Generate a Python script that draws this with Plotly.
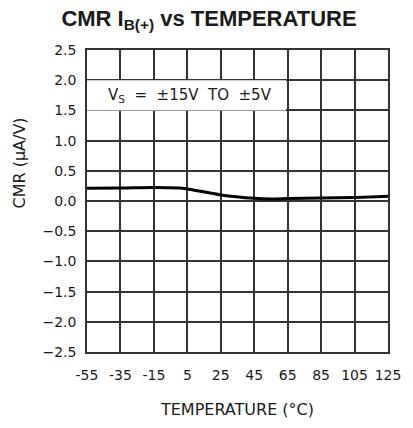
import plotly.graph_objects as go

# Common-mode rejection of the positive input bias current across temperature
temperature_c = [-55, -35, -15, 0, 5, 25, 45, 55, 65, 85, 105, 125]
cmr_ua_per_v = [0.21, 0.215, 0.225, 0.215, 0.20, 0.10, 0.045, 0.035, 0.04, 0.05, 0.06, 0.08]

x_ticks = [-55, -35, -15, 5, 25, 45, 65, 85, 105, 125]
y_ticks = [-2.5, -2.0, -1.5, -1.0, -0.5, 0.0, 0.5, 1.0, 1.5, 2.0, 2.5]

tick_font = dict(family="DejaVu Sans", size=14, color="#1a1a1a")
note_font = dict(family="DejaVu Sans", size=15, color="#1a1a1a")
title_font = dict(family="DejaVu Sans", size=16, color="#1a1a1a")
grid_color = "#333333"

fig = go.Figure()
fig.add_trace(go.Scatter(
    x=temperature_c,
    y=cmr_ua_per_v,
    mode="lines",
    line=dict(color="#000000", width=3, shape="spline", smoothing=0.8),
    showlegend=False,
    hoverinfo="skip",
))

# white panel behind the supply-voltage note, covering the grid
fig.add_shape(
    type="rect", xref="x", yref="y",
    x0=-55, x1=64, y0=1.5, y1=2.0,
    fillcolor="white", line=dict(width=0), layer="between",
)
fig.add_annotation(
    xref="paper", yref="y", x=0.062, y=1.75,
    xanchor="left", yanchor="middle",
    text="V<sub>S</sub>  =  ±15V  TO  ±5V",
    showarrow=False, font=note_font,
)

fig.add_annotation(
    xref="paper", yref="paper", x=-0.225, y=0.625,
    xanchor="center", yanchor="middle", textangle=-90,
    text="CMR (μA/V)", showarrow=False, font=title_font,
)

fig.update_layout(
    width=413, height=428,
    margin=dict(l=87, r=16, t=50, b=71),
    paper_bgcolor="white", plot_bgcolor="white",
    title=dict(
        text="CMR I<sub>B(+)</sub> vs TEMPERATURE",
        x=209 / 413, xref="container", xanchor="center",
        y=1 - 18 / 428, yref="container", yanchor="middle",
        font=dict(family="Liberation Sans", size=22, color="#1a1a1a", weight="bold"),
    ),
    xaxis=dict(
        range=[-55, 125], tickvals=x_ticks, ticktext=[str(v) for v in x_ticks],
        showgrid=True, gridcolor=grid_color, gridwidth=1.5,
        showline=True, linecolor=grid_color, linewidth=1.5, mirror=True,
        zeroline=False, ticks="", ticklen=0, ticklabelstandoff=9,
        tickfont=tick_font,
        title=dict(text="TEMPERATURE (°C)", font=title_font, standoff=22),
    ),
    yaxis=dict(
        range=[-2.5, 2.5], tickvals=y_ticks, tickformat=".1f",
        showgrid=True, gridcolor=grid_color, gridwidth=1.5,
        showline=True, linecolor=grid_color, linewidth=1.5, mirror=True,
        zeroline=False, ticks="", ticklen=0, ticklabelstandoff=6,
        tickfont=tick_font,
    ),
)

fig.write_html("out.html")
